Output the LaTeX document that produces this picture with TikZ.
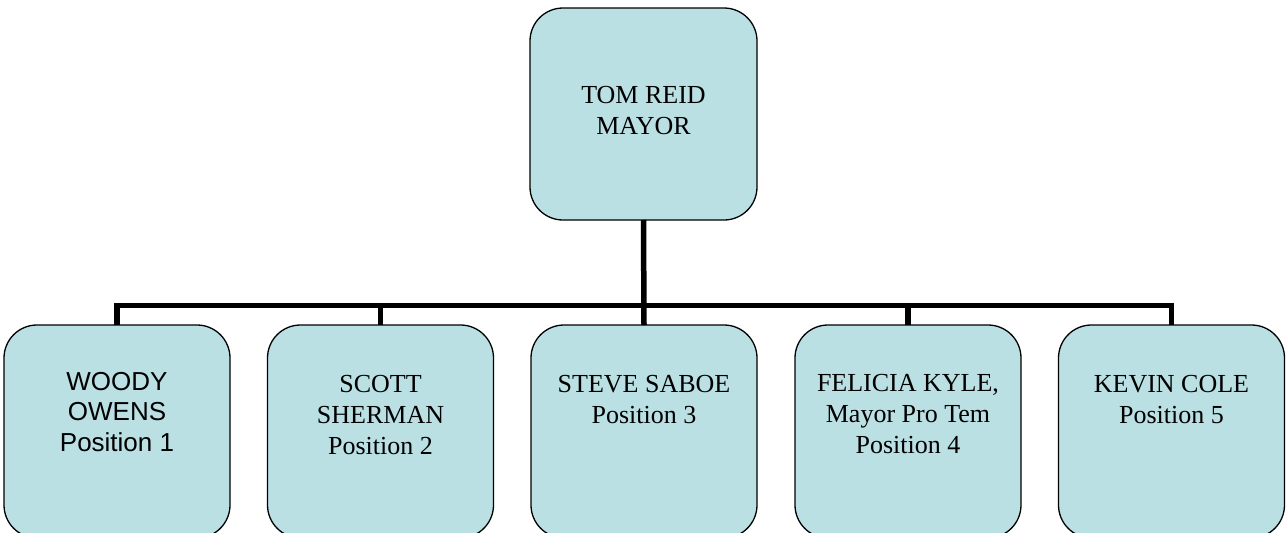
\documentclass[tikz,border=0pt]{standalone}
\usepackage{fontspec}
\setmainfont{Liberation Serif}
\newfontfamily\arialfont{Liberation Sans}
\definecolor{boxfill}{RGB}{186,224,228}
\begin{document}
\begin{tikzpicture}[x=1pt,y=-1pt,
  box/.style={draw=black, line width=1.3pt, fill=boxfill, rounded corners=33pt,
    minimum width=226pt, inner sep=0pt, outer sep=0pt},
  lowbox/.style={box, minimum height=213pt},
  label/.style={anchor=north, align=center, inner sep=0pt,
    font=\fontsize{26}{31}\selectfont},
  conn/.style={draw=black, line width=5.5pt, line join=miter, line cap=butt}]
\useasboundingbox (0,0) rectangle (1286,533);

% top of the chart
\node[box, minimum width=227pt, minimum height=212pt] (top) at (643.5,114) {};
\node[label] (ttop) at (643.5,86) {TOM REID\\MAYOR};

% council members
\node[lowbox] (b1) at (117,431.5) {};
\node[lowbox] (b2) at (380.5,431.5) {};
\node[lowbox] (b3) at (644,431.5) {};
\node[lowbox] (b4) at (908,431.5) {};
\node[lowbox] (b5) at (1171.5,431.5) {};

\node[label, font=\arialfont\fontsize{26}{30.5}\selectfont] (t1) at (117,372) {WOODY\\OWENS\\Position 1};
\node[label] (t2) at (380.5,375) {SCOTT\\SHERMAN\\Position 2};
\node[label] (t3) at (644,375) {STEVE SABOE\\Position 3};
\node[label] (t4) at (908,374) {FELICIA KYLE,\\Mayor Pro Tem\\Position 4};
\node[label] (t5) at (1171.5,375) {KEVIN COLE\\Position 5};

% connectors
\coordinate (bus) at (0,305.5);
\draw[conn] (top.south) -- (b3.north);
\draw[conn] (b1.north) |- (b5.north |- bus) -- (b5.north);
\foreach \i in {2,4}
  \draw[conn] (b\i.north) -- (b\i.north |- bus);
\end{tikzpicture}
\end{document}
